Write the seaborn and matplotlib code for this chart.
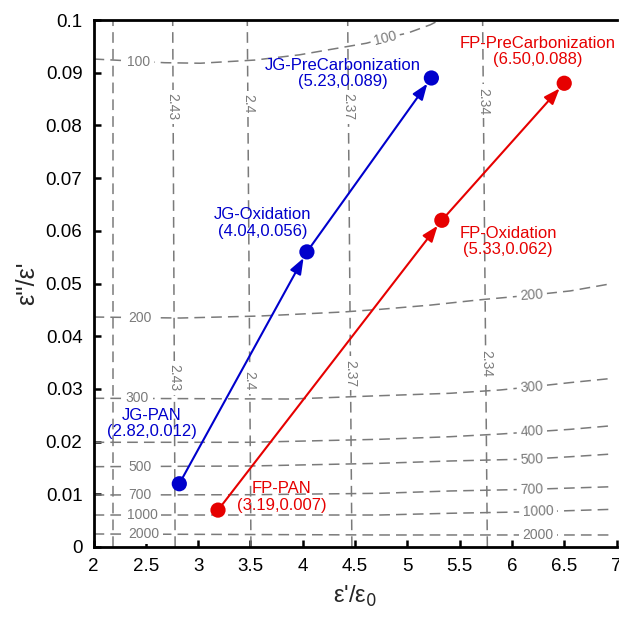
import matplotlib
matplotlib.use("Agg")
import matplotlib.pyplot as plt
import seaborn as sns
import pandas as pd

# ---------------- data ----------------
jg_labels = ["JG-PAN", "JG-Oxidation", "JG-PreCarbonization"]
jg_x = [2.82, 4.04, 5.23]
jg_y = [0.012, 0.056, 0.089]
fp_labels = ["FP-PAN", "FP-Oxidation", "FP-PreCarbonization"]
fp_x = [3.19, 5.33, 6.50]
fp_y = [0.007, 0.062, 0.088]

# annotation block centres
jg_text_x = [2.56, 3.615, 4.38]
jg_text_y = [0.0235, 0.0615, 0.0898]
fp_text_x = [3.80, 5.963, 6.245]
fp_text_y = [0.0095, 0.0579, 0.0941]

# horizontal-ish contour lines
h_levels = ["100", "200", "300", "400", "500", "700", "1000", "2000"]
h_x = {
    "100": [2.0, 2.68, 3.02, 3.54, 3.97, 4.61, 4.83, 5.0, 5.22, 5.31],
    "200": [2.0, 2.83, 3.59, 4.39, 4.74, 5.22, 5.69, 6.19, 6.56, 6.96],
    "300": [2.0, 3.88, 4.74, 5.41, 5.89, 6.19, 6.56, 6.96],
    "400": [2.0, 3.50, 4.74, 5.41, 5.89, 6.56, 6.96],
    "500": [2.0, 3.50, 4.74, 5.41, 6.19, 6.56, 6.96],
    "700": [2.0, 3.50, 4.74, 5.41, 6.19, 6.96],
    "1000": [2.0, 4.74, 5.41, 6.24, 6.96],
    "2000": [2.0, 4.74, 6.96],
}
h_y = {
    "100": [0.0926, 0.0919, 0.0918, 0.0924, 0.0934, 0.0956, 0.0968, 0.0975, 0.0991, 0.1000],
    "200": [0.04364, 0.04345, 0.04383, 0.0446, 0.0451, 0.0459, 0.0469, 0.0478, 0.0486, 0.0500],
    "300": [0.02822, 0.02808, 0.02871, 0.02917, 0.0298, 0.0304, 0.0312, 0.0320],
    "400": [0.01987, 0.01987, 0.02044, 0.02093, 0.02144, 0.02233, 0.02302],
    "500": [0.01524, 0.01537, 0.01588, 0.01632, 0.0167, 0.01713, 0.01765],
    "700": [0.00987, 0.00992, 0.01019, 0.01063, 0.01095, 0.01144],
    "1000": [0.00607, 0.00607, 0.0064, 0.0067, 0.00715],
    "2000": [0.00247, 0.00228, 0.00228],
}
# contour label positions
h_lab_left = {"100": (2.435, 0.0920), "200": (2.445, 0.04345), "300": (2.42, 0.02827),
              "500": (2.445, 0.01524), "700": (2.445, 0.00987), "1000": (2.464, 0.00607),
              "2000": (2.483, 0.00247)}
h_lab_right = {"100": (4.787, 0.0966), "200": (6.19, 0.0478), "300": (6.19, 0.0304),
               "400": (6.19, 0.02188), "500": (6.19, 0.01664), "700": (6.19, 0.01095),
               "1000": (6.25, 0.0067), "2000": (6.25, 0.00228)}
h_lab_rot = {"100": 14, "200": 4, "300": 4, "400": 3, "500": 2.5, "700": 2, "1000": 2, "2000": 0}

# near-vertical contour lines
v_levels = ["2.46", "2.43", "2.4", "2.37", "2.34"]
v_x = {"2.46": [2.186, 2.186], "2.43": [2.78, 2.757], "2.4": [3.505, 3.47],
       "2.37": [4.47, 4.43], "2.34": [5.765, 5.72]}
v_y = [0.0, 0.1]
v_lab_up = {"2.43": (2.757, 0.0835), "2.4": (3.477, 0.0841), "2.37": (4.433, 0.0835),
            "2.34": (5.724, 0.0846)}
v_lab_low = {"2.43": (2.77, 0.0321), "2.4": (3.49, 0.0315), "2.37": (4.457, 0.0330),
             "2.34": (5.75, 0.0349)}

xticks = [2, 2.5, 3, 3.5, 4, 4.5, 5, 5.5, 6, 6.5, 7]
xticklabels = ["2", "2.5", "3", "3.5", "4", "4.5", "5", "5.5", "6", "6.5", "7"]
yticks = [0, 0.01, 0.02, 0.03, 0.04, 0.05, 0.06, 0.07, 0.08, 0.09, 0.1]
yticklabels = ["0", "0.01", "0.02", "0.03", "0.04", "0.05", "0.06", "0.07", "0.08", "0.09", "0.1"]

# ---------------- style ----------------
sns.set_theme(style="white")
plt.rcParams['font.family'] = ['Liberation Sans', 'DejaVu Sans']

BLUE = "#0000cc"
RED = "#e60000"
GRAY = "#7a7a7a"

fig = plt.figure(figsize=(6.19, 6.18), dpi=100)
ax = fig.add_axes([0.1511, 0.1149, 0.996 - 0.1511, 0.9676 - 0.1149])
ax.set_xlim(2, 7)
ax.set_ylim(0, 0.1)

# contours
for lev in h_levels:
    ax.plot(h_x[lev], h_y[lev], color=GRAY, lw=1.1, dashes=(7, 4), zorder=1)
for lev in v_levels:
    ax.plot(v_x[lev], v_y, color=GRAY, lw=1.1, dashes=(7, 4), zorder=1)

box = dict(facecolor="white", edgecolor="none", pad=2.5)
for lev, (x, y) in h_lab_left.items():
    ax.text(x, y, lev, color=GRAY, fontsize=10, ha="center", va="center",
            rotation=0, bbox=box, zorder=2)
for lev, (x, y) in h_lab_right.items():
    ax.text(x, y, lev, color=GRAY, fontsize=10, ha="center", va="center",
            rotation=h_lab_rot[lev], rotation_mode="anchor", bbox=box, zorder=2)
for lev, (x, y) in list(v_lab_up.items()) + list(v_lab_low.items()):
    ax.text(x, y, lev, color=GRAY, fontsize=10, ha="center", va="center",
            rotation=-90, bbox=box, zorder=2)

# arrows
def arrows(xs, ys, c):
    for i in range(len(xs) - 1):
        ax.annotate("", xy=(xs[i + 1], ys[i + 1]), xytext=(xs[i], ys[i]),
                    arrowprops=dict(arrowstyle="-|>,head_length=0.8,head_width=0.3",
                                    color=c, lw=1.5, shrinkA=0, shrinkB=5),
                    zorder=3)

arrows(jg_x, jg_y, BLUE)
arrows(fp_x, fp_y, RED)

df = pd.DataFrame({"x": jg_x + fp_x, "y": jg_y + fp_y,
                   "group": ["JG"] * 3 + ["FP"] * 3})
sns.scatterplot(data=df, x="x", y="y", hue="group", palette={"JG": BLUE, "FP": RED},
                s=120, edgecolor="none", legend=False, ax=ax, zorder=4)

for lab, x0, y0, tx, ty in zip(jg_labels, jg_x, jg_y, jg_text_x, jg_text_y):
    ax.text(tx, ty, f"{lab}\n({x0:.2f},{y0:.3f})", color=BLUE, fontsize=12,
            ha="center", va="center", linespacing=1.1, zorder=5)
for lab, x0, y0, tx, ty in zip(fp_labels, fp_x, fp_y, fp_text_x, fp_text_y):
    ax.text(tx, ty, f"{lab}\n({x0:.2f},{y0:.3f})", color=RED, fontsize=12,
            ha="center", va="center", linespacing=1.1, zorder=5)

# axes styling
ax.set_xticks(xticks)
ax.set_xticklabels(xticklabels)
ax.set_yticks(yticks)
ax.set_yticklabels(yticklabels)
ax.tick_params(direction="in", length=5, width=1.8, labelsize=13.5, colors="black",
               pad=8, top=False, right=False, bottom=True, left=True)
for s in ["left", "bottom", "top"]:
    ax.spines[s].set_linewidth(2.0)
    ax.spines[s].set_color("black")
ax.spines["right"].set_visible(False)

ax.set_xlabel("ε'/ε$_0$", fontsize=17, labelpad=6)
ax.set_ylabel("ε''/ε'", fontsize=18, labelpad=5)
ax.grid(False)

fig.savefig("out.png", dpi=100)
